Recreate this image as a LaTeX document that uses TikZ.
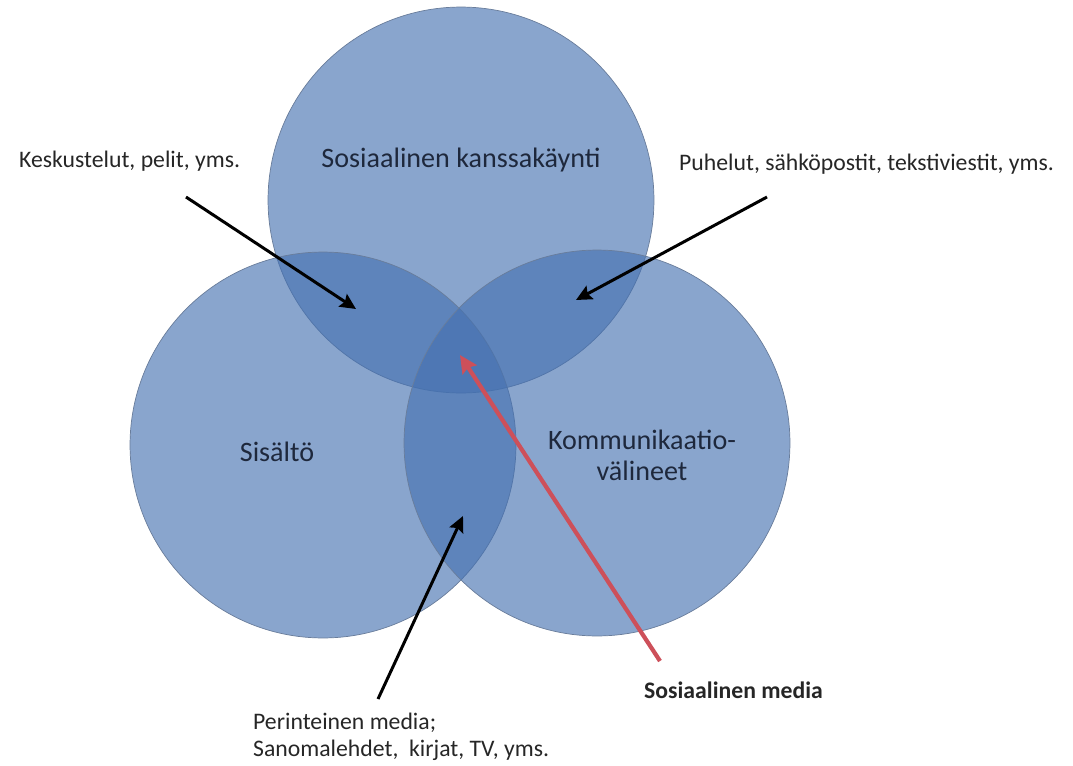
\documentclass[tikz,border=0pt]{standalone}
\usepackage{fontspec}
\setmainfont{Carlito}
\usetikzlibrary{arrows.meta}
\definecolor{set_blue}{RGB}{68,112,176}
\definecolor{set_edge}{RGB}{105,125,155}
\definecolor{label_navy}{RGB}{30,40,60}
\definecolor{edge_red}{RGB}{205,80,90}

\begin{document}
\begin{tikzpicture}[->,>={Stealth[inset=1.5pt,length=9pt,width=8.5pt]},x=0.02cm,y=-0.02cm]
    \tikzstyle{set}=[draw=set_edge, thin, circle, minimum size=7.72cm, inner sep=0pt, fill=set_blue, fill opacity=0.63]
    \tikzstyle{setlabel}=[text=label_navy, font=\fontsize{16}{17.6}\selectfont, align=center]
    \tikzstyle{note}=[text=black!85, font=\fontsize{13.5}{15.5}\selectfont, anchor=west, align=left]
    \tikzstyle{pointer}=[line width=1.7pt, black]
    \tikzstyle{social}=[line width=2.4pt, edge_red, >={Stealth[inset=1.5pt,length=10pt,width=9.5pt]}]

    \useasboundingbox (0,0) rectangle (1073,765);

    % the three sets
    \node[set] (kanssa) at (461,200) {};
    \node[set] (sisalto) at (323,445) {};
    \node[set] (valine) at (597,443) {};

    \node[setlabel] (kanssaT)  at (461,160) {Sosiaalinen kanssakäynti};
    \node[setlabel] (sisaltoT) at (277,452) {Sisältö};
    \node[setlabel] (valineT)  at (642,455) {Kommunikaatio-\\välineet};

    % notes
    \node[note] (keskustelut) at (13,161) {Keskustelut, pelit, yms.};
    \node[note] (puhelut)     at (673,164) {Puhelut, sähköpostit, tekstiviestit, yms.};
    \node[note] (perinteinen) at (247,737) {Perinteinen media;\\Sanomalehdet,\ \ kirjat, TV, yms.};
    \node[note, font=\fontsize{13.5}{15.5}\selectfont\bfseries] (somedia) at (638,690) {Sosiaalinen media};

    \coordinate (kt) at (186,197);
    \coordinate (kh) at (356,309);
    \coordinate (pt) at (767,197);
    \coordinate (ph) at (576,300);
    \coordinate (rt) at (378,699);
    \coordinate (rh) at (463,516);
    \coordinate (st) at (660,661);
    \coordinate (sh) at (460,355);

    \path
     (kt) edge[pointer] (kh)
     (pt) edge[pointer] (ph)
     (rt) edge[pointer] (rh)
     (st) edge[social]  (sh)
     ;
\end{tikzpicture}
\end{document}
